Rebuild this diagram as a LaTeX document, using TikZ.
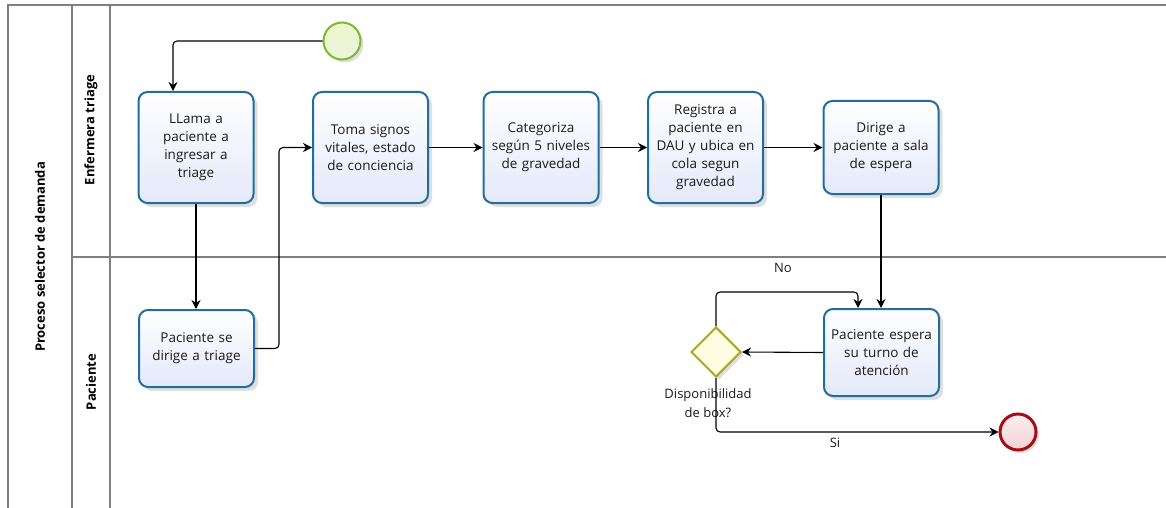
\documentclass[tikz,border=0pt]{standalone}
\usepackage{fontspec}
\setmainfont{Open Sans}
\usetikzlibrary{arrows.meta,shadows,positioning,shapes.geometric}
\definecolor{taskborder}{HTML}{1F6E9E}
\definecolor{taskfill}{HTML}{E4E9FA}
\definecolor{gridgray}{HTML}{7F7F7F}
\definecolor{startborder}{HTML}{7DB92E}
\definecolor{startfill}{HTML}{EEF7CF}
\definecolor{endborder}{HTML}{A50F14}
\definecolor{endfill}{HTML}{F4D3D6}
\definecolor{gwborder}{HTML}{A8A828}
\definecolor{gwfill}{HTML}{FDFDE2}
\definecolor{txt}{HTML}{1A1A1A}
\begin{document}
\begin{tikzpicture}[x=1pt,y=-1pt,
  task/.style={draw=taskborder,line width=2pt,rounded corners=9pt,
    top color=white,bottom color=taskfill,text=txt,
    drop shadow={opacity=0.25,shadow xshift=4pt,shadow yshift=-4pt},
    align=center,text width=112pt,font=\fontsize{13.5}{18}\selectfont,inner sep=0pt},
  flow/.style={draw=black,line width=1.1pt,rounded corners=4pt,-{Stealth[length=9pt,width=9pt,inset=3pt]}},
  lane/.style={draw=gridgray,line width=1.2pt},
  lanelabel/.style={rotate=90,font=\fontsize{13}{15}\selectfont\bfseries},
  lbl/.style={font=\fontsize{13}{19}\selectfont,align=center,inner sep=0pt,text=txt}]
\useasboundingbox (0,0) rectangle (1166,508);
% pool and lanes
\draw[lane] (8,508) -- (8,5) -- (1166,5);
\draw[lane] (72,5) -- (72,508);
\draw[lane] (110,5) -- (110,508);
\draw[lane] (72,257) -- (1166,257);
\node[lanelabel] (pool) at (40,257) {Proceso selector de demanda};
\node[lanelabel] (lane1) at (91,130) {Enfermera triage};
\node[lanelabel] (lane2) at (91,382) {Paciente};
% events
\node[circle,draw=startborder,line width=2pt,minimum size=37pt,inner sep=0pt,
  top color=startfill,bottom color=startfill!70!startborder!40,
  drop shadow={opacity=0.25,shadow xshift=3pt,shadow yshift=-3pt}] (S) at (342,41) {};
\node[circle,draw=endborder,line width=3pt,minimum size=36pt,inner sep=0pt,
  top color=endfill!40,bottom color=endfill,
  drop shadow={opacity=0.25,shadow xshift=3pt,shadow yshift=-3pt}] (E) at (1018,432) {};
% tasks
\node[task,minimum width=115pt,minimum height=111pt] (T1) at (196,147.5) {LLama a\\paciente a\\ingresar a\\triage};
\node[task,minimum width=115pt,minimum height=111pt] (T2) at (370.5,147.5) {Toma signos\\vitales, estado\\de conciencia};
\node[task,minimum width=115pt,minimum height=111pt] (T3) at (541,147.5) {Categoriza\\según 5 niveles\\de gravedad};
\node[task,minimum width=115pt,minimum height=111pt] (T4) at (705.5,147.5) {Registra a\\paciente en\\DAU y ubica en\\cola segun\\gravedad};
\node[task,minimum width=115pt,minimum height=93pt] (T5) at (881,147.5) {Dirige a\\paciente a sala\\de espera};
\node[task,minimum width=115pt,minimum height=77pt] (T6) at (196.5,348.5) {Paciente se\\dirige a triage};
\node[task,minimum width=115pt,minimum height=87pt] (T7) at (881.5,352.5) {Paciente espera\\su turno de\\atención};
% gateway
\node[diamond,draw=gwborder,line width=2pt,minimum size=50pt,inner sep=0pt,aspect=1,
  fill=gwfill,drop shadow={opacity=0.25,shadow xshift=3pt,shadow yshift=-3pt}] (G) at (716,352) {};
\node[lbl] (Gl) at (708,403) {Disponibilidad\\de box?};
% flows
\draw[flow] (S.west) -| ([xshift=-23pt]T1.north);
\draw[flow] (T1.south) -- (T1.south |- T6.north);
\draw[flow] (T6.east) -- ++(24,0) |- (T2.west);
\draw[flow] (T2.east) -- (T3.west);
\draw[flow] (T3.east) -- (T4.west);
\draw[flow] (T4.east) -- (T5.west);
\draw[flow] (T5.south) -- (T5.south |- T7.north);
\draw[flow] (T7.west) -- (G.east);
\coordinate (nob) at (858,292);
\draw[flow] (G.north) |- (nob) -- (nob |- T7.north);
\draw[flow] (G.south) |- (E.west);
\node[lbl] (no) at (783,268) {No};
\node[lbl] (si) at (835,443) {Si};
\end{tikzpicture}
\end{document}
